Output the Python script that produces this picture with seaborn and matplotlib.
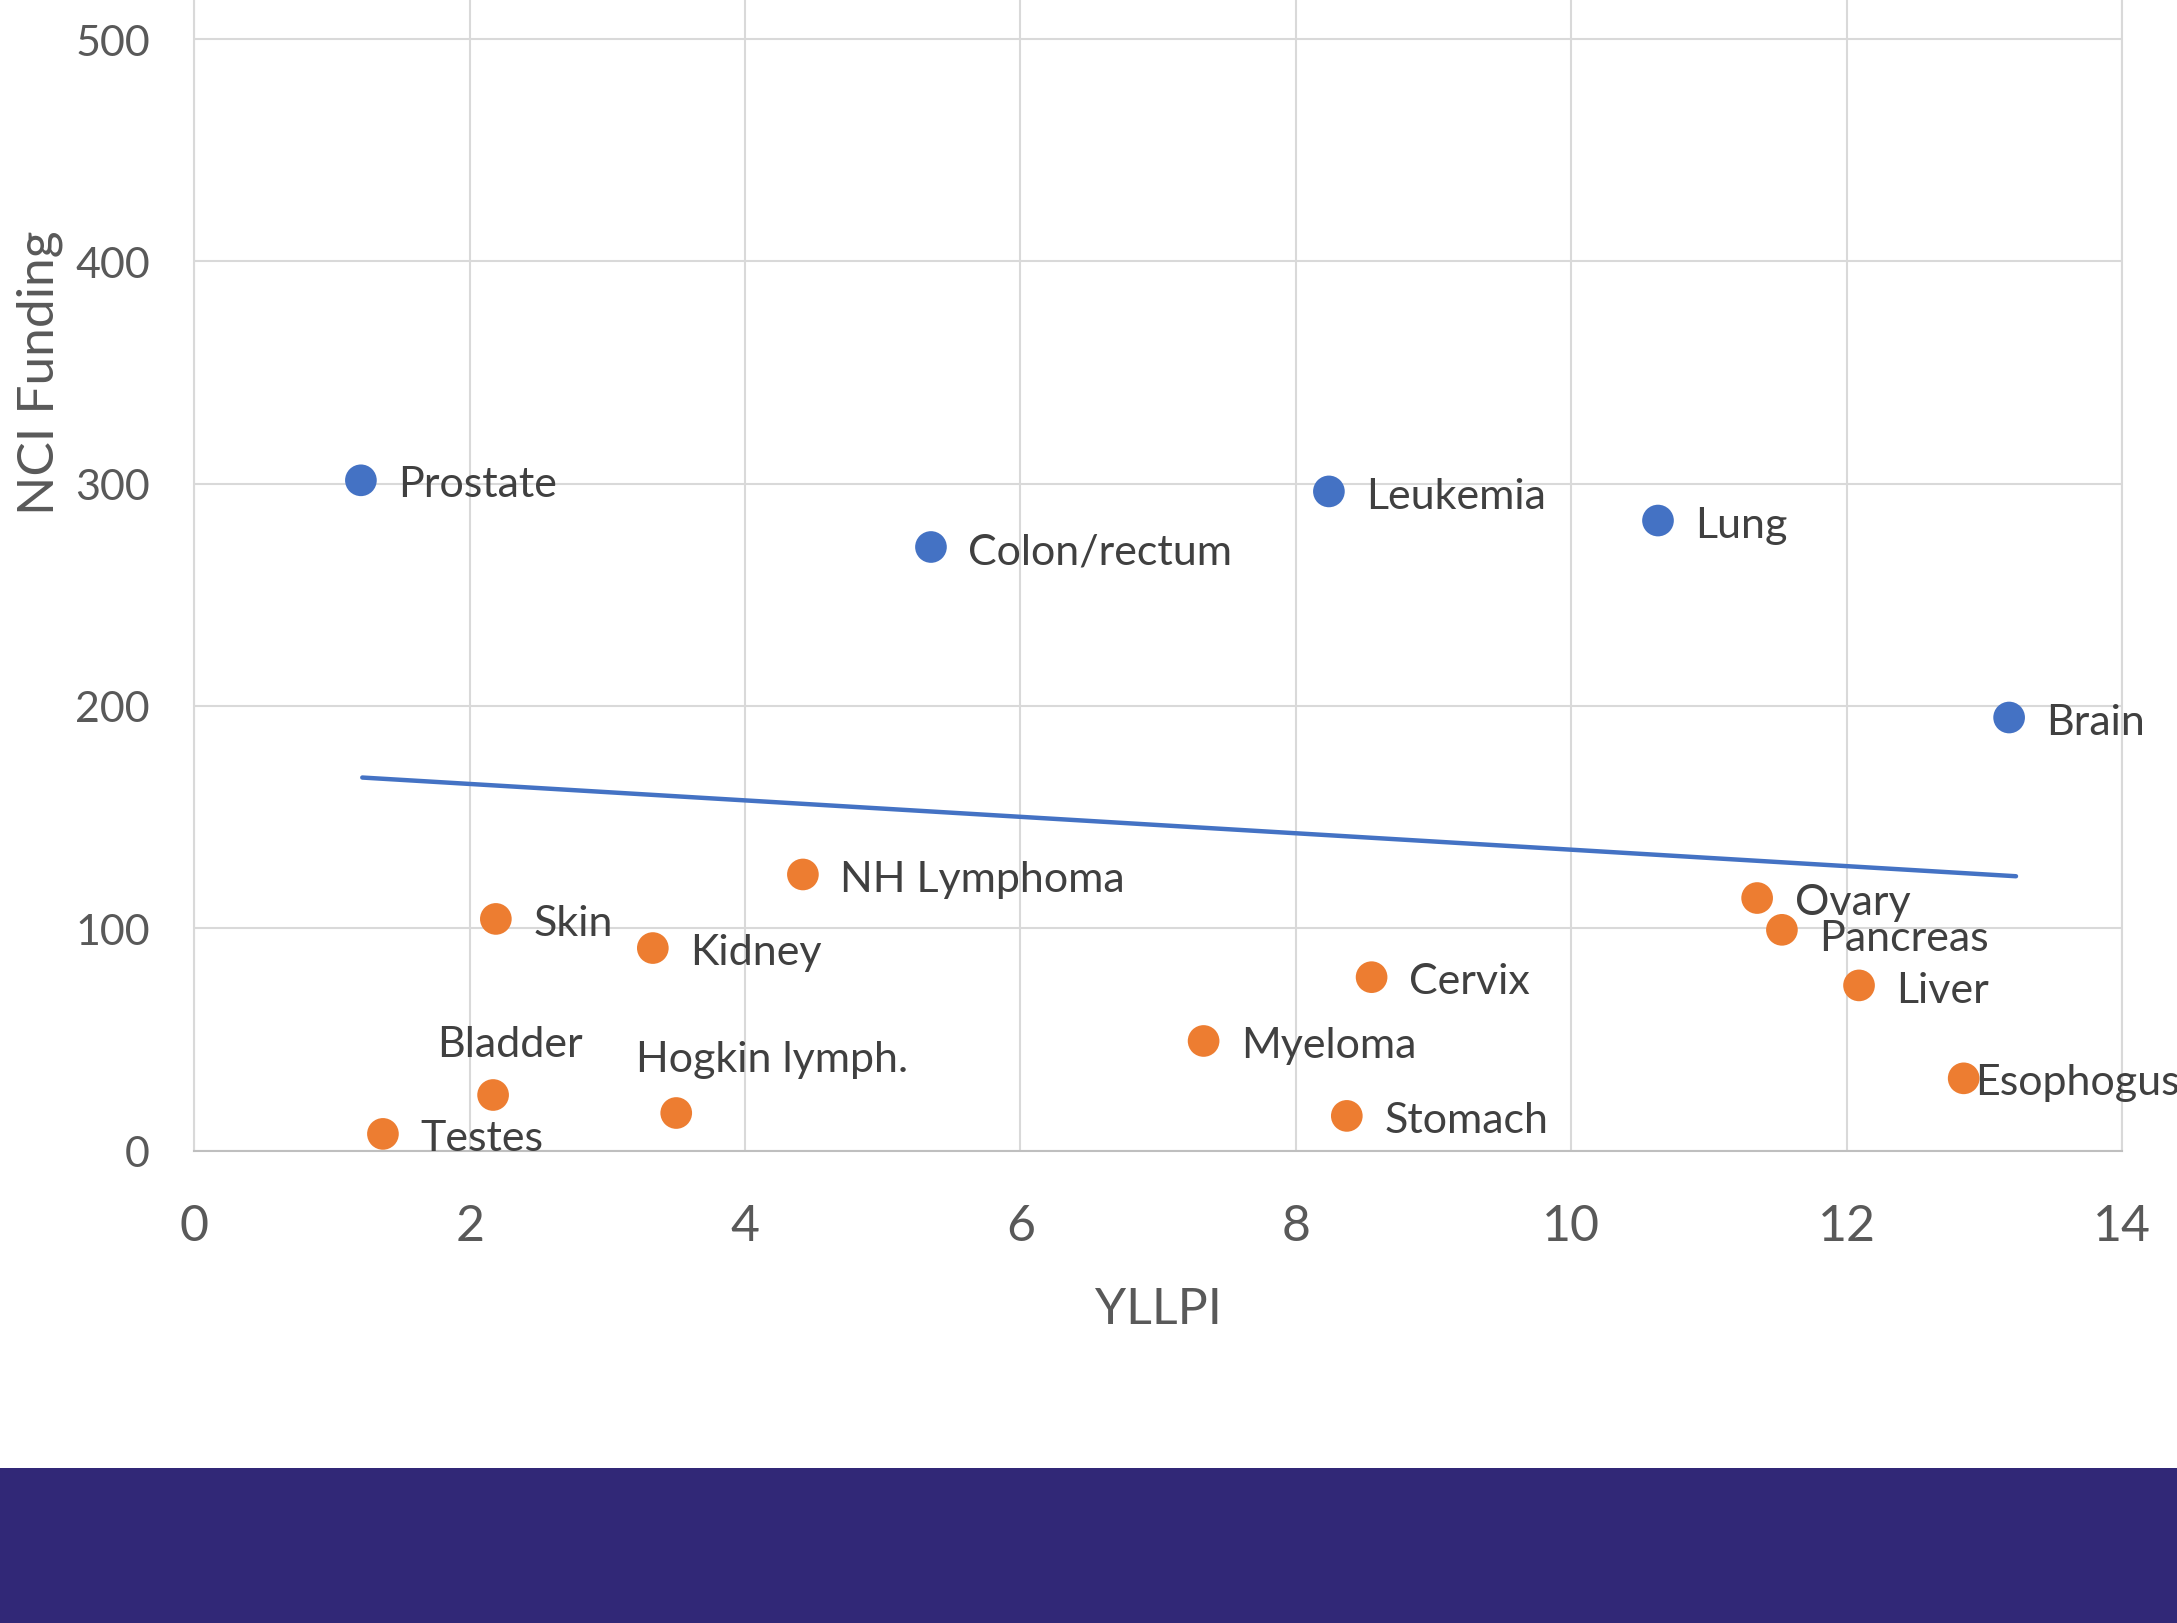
import matplotlib
matplotlib.use("Agg")
import matplotlib.pyplot as plt
import seaborn as sns
import pandas as pd
from matplotlib.patches import Rectangle

# ---- data ----
cancers_high = ["Prostate", "Colon/rectum", "Leukemia", "Lung", "Brain"]
yllpi_high = [1.21, 5.35, 8.24, 10.63, 13.18]
funding_high = [301.5, 271.5, 296.5, 283.4, 194.8]

cancers_low = ["NH Lymphoma", "Skin", "Kidney", "Bladder", "Testes", "Hogkin lymph.",
               "Myeloma", "Stomach", "Cervix", "Ovary", "Pancreas", "Liver", "Esophogus"]
yllpi_low = [4.42, 2.19, 3.33, 2.17, 1.37, 3.50, 7.33, 8.37, 8.55, 11.35, 11.53, 12.09, 12.85]
funding_low = [124.2, 104.2, 91.1, 25.0, 7.5, 16.9, 49.3, 15.6, 78.0, 113.6, 99.3, 74.3, 32.5]

trend_x = [1.22, 13.23]
trend_y = [167.8, 123.4]

x_ticks = [0, 2, 4, 6, 8, 10, 12, 14]
y_ticks = [0, 100, 200, 300, 400, 500]

df = pd.DataFrame({
    "Cancer": cancers_high + cancers_low,
    "YLLPI": yllpi_high + yllpi_low,
    "NCI Funding": funding_high + funding_low,
    "group": ["high"] * len(cancers_high) + ["low"] * len(cancers_low),
})

# ---- label placement (style, not data) ----
label_offsets = {
    "Bladder": (12, 37, "center"),
    "Hogkin lymph.": (69, 39, "center"),
    "Esophogus": (8, -3, "left"),
    "Pancreas": (27, -6, "left"),
}

sns.set_theme(style="whitegrid")
plt.rcParams["font.family"] = ["Lato", "DejaVu Sans"]

fig = plt.figure(figsize=(21.77, 16.24), dpi=100, facecolor="white")
ax = fig.add_axes([0.08925, 0.2909, 0.8855, 0.7091])
ax.set_facecolor("white")

sns.lineplot(x=trend_x, y=trend_y, ax=ax, color="#4472C4", linewidth=3.2, zorder=2)
sns.scatterplot(data=df, x="YLLPI", y="NCI Funding", hue="group",
                palette={"high": "#4472C4", "low": "#ED7D31"},
                s=520, linewidth=0, legend=False, ax=ax, zorder=3)

for name, xv, yv in zip(df["Cancer"], df["YLLPI"], df["NCI Funding"]):
    dx, dy, ha = label_offsets.get(name, (27, -3, "left"))
    ax.annotate(name, (xv, yv), xytext=(dx, dy), textcoords="offset points",
                ha=ha, va="center", fontsize=31, color="#404040",
                annotation_clip=False, zorder=4)

ax.set_xlim(0, 14)
ax.set_ylim(0, 518)
ax.set_xticks(x_ticks)
ax.set_yticks(y_ticks)
ax.grid(True, color="#D9D9D9", linewidth=1.5)
ax.tick_params(axis="x", labelsize=36, pad=38, length=0, labelcolor="#595959")
ax.tick_params(axis="y", labelsize=31, pad=32, length=0, labelcolor="#595959")

ax.spines["top"].set_visible(False)
ax.spines["bottom"].set_color("#BFBFBF")
ax.spines["bottom"].set_linewidth(1.5)
ax.spines["left"].set_color("#D9D9D9")
ax.spines["left"].set_linewidth(1.5)
ax.spines["right"].set_color("#D9D9D9")
ax.spines["right"].set_linewidth(1.5)

ax.set_xlabel("YLLPI", fontsize=36, color="#595959")
ax.set_ylabel("NCI Funding", fontsize=37, color="#595959")
ax.xaxis.set_label_coords(0.5, -0.118)
ax.yaxis.set_label_coords(-0.068, 0.676)

fig.add_artist(Rectangle((0, 0), 1, 155 / 1624, transform=fig.transFigure,
                         facecolor="#312877", edgecolor="none", zorder=10))

fig.savefig("out.png", dpi=100, facecolor="white")
